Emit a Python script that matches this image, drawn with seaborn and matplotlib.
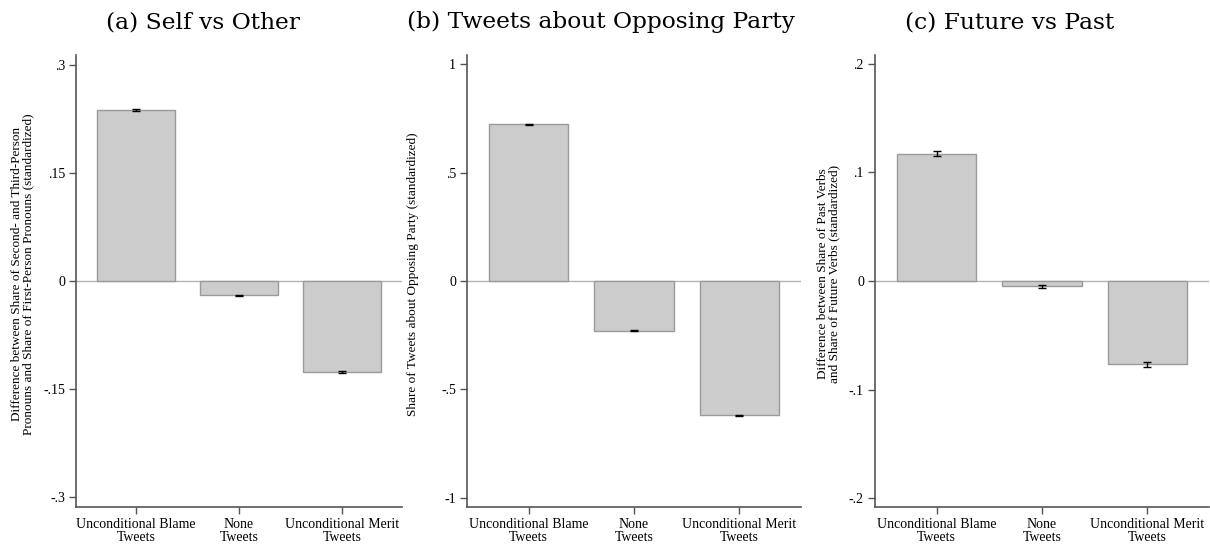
import numpy as np
import pandas as pd
import matplotlib
matplotlib.use("Agg")
import matplotlib.pyplot as plt
import seaborn as sns

# Categories shared by all three panels
categories = ["Unconditional Blame\nTweets", "None\nTweets", "Unconditional Merit\nTweets"]

# Panel values
self_other = [0.238, -0.020, -0.126]
self_other_err = [0.0015, 0.001, 0.0015]
opposing = [0.722, -0.229, -0.619]
opposing_err = [0.002, 0.002, 0.002]
future_past = [0.117, -0.0048, -0.0766]
future_past_err = [0.0022, 0.0012, 0.0022]

titles = ["(a) Self vs Other", "(b) Tweets about Opposing Party", "(c) Future vs Past"]
ylabels = [
    "Difference between Share of Second- and Third-Person\nPronouns and Share of First-Person Pronouns (standardized)",
    "Share of Tweets about Opposing Party (standardized)",
    "Difference between Share of Past Verbs\nand Share of Future Verbs (standardized)",
]
yticks = [
    [-0.3, -0.15, 0, 0.15, 0.3],
    [-1, -0.5, 0, 0.5, 1],
    [-0.2, -0.1, 0, 0.1, 0.2],
]
yticklabels = [
    ["-.3", "-.15", "0", ".15", ".3"],
    ["-1", "-.5", "0", ".5", "1"],
    ["-.2", "-.1", "0", ".1", ".2"],
]
ylims = [0.314, 1.042, 0.208]

sns.set_style("white")
plt.rcParams["font.family"] = ["Liberation Serif", "DejaVu Serif"]
plt.rcParams["text.color"] = "black"
plt.rcParams["xtick.labelcolor"] = "black"
plt.rcParams["ytick.labelcolor"] = "black"

fig = plt.figure(figsize=(12.1, 5.46), dpi=100)

# axes boxes in figure fractions
boxes = [
    [76 / 1210, 39 / 546, 326 / 1210, 452 / 546],
    [467 / 1210, 39 / 546, 334 / 1210, 452 / 546],
    [875 / 1210, 39 / 546, 334 / 1210, 452 / 546],
]
title_x = [203, 601, 1010]
ylabel_x = [23, 413, 829]

panels = [
    (self_other, self_other_err),
    (opposing, opposing_err),
    (future_past, future_past_err),
]

for i, (vals, errs) in enumerate(panels):
    ax = fig.add_axes(boxes[i])
    df = pd.DataFrame({"cat": categories, "val": vals})
    ax.axhline(0, color="#b4b4b4", lw=1.0, zorder=0)
    sns.barplot(data=df, x="cat", y="val", ax=ax, color="#cccccc",
                edgecolor="#9a9a9a", linewidth=1.0, width=0.75,
                saturation=1, errorbar=None, zorder=2)
    ax.errorbar(np.arange(len(vals)), vals, yerr=errs, fmt="none",
                ecolor="black", elinewidth=1.0, capsize=3, capthick=1.0, zorder=3)
    ax.set_xlim(-0.583, 2.583)
    ax.set_ylim(-ylims[i], ylims[i])
    ax.set_yticks(yticks[i])
    ax.set_yticklabels(yticklabels[i])
    ax.set_xlabel("")
    ax.set_ylabel("")
    for lab in ax.get_xticklabels():
        lab.set_linespacing(0.95)
    ax.tick_params(axis="both", which="both", direction="out", length=5,
                   width=1.0, color="#555555", labelcolor="black", labelsize=10,
                   pad=3, left=True, bottom=True)
    sns.despine(ax=ax)
    for side in ["left", "bottom"]:
        ax.spines[side].set_color("#555555")
        ax.spines[side].set_linewidth(1.2)

    fig.text(title_x[i] / 1210, 1 - 22 / 546, titles[i], ha="center", va="center",
             fontsize=16.8, family=["DejaVu Serif"], color="black")
    fig.text(ylabel_x[i] / 1210, 1 - 274 / 546, ylabels[i], ha="center", va="center",
             rotation=90, fontsize=9.5, linespacing=0.9, color="black")

fig.savefig("out.png", dpi=100)
